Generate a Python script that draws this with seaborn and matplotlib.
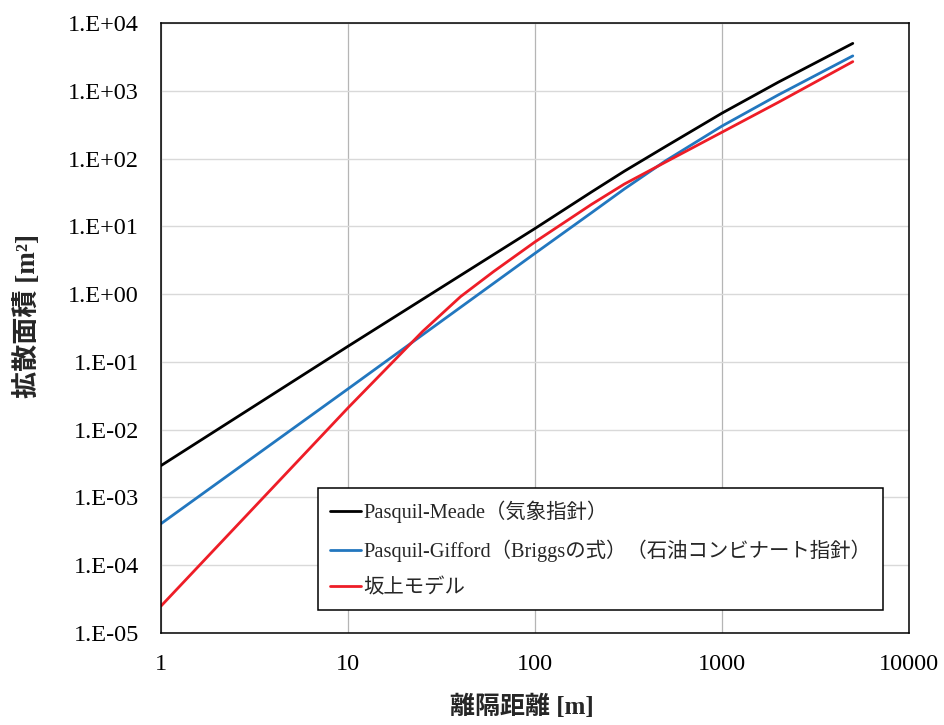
import numpy as np
import pandas as pd
import seaborn as sns
import matplotlib
matplotlib.use('Agg')
import matplotlib.pyplot as plt
from matplotlib.ticker import FixedLocator, FuncFormatter, NullLocator

# values (distance [m] -> area [m2])
x_meade = [1, 10, 100, 200, 300, 500, 1000, 2000, 5000]
area_meade = [2.95e-3, 0.17, 9.3, 32, 65, 151, 468, 1340, 5000]

x_gifford = [1, 10, 100, 200, 300, 500, 1000, 2000, 5000]
area_gifford = [4.1e-4, 0.040, 4.0, 15.8, 35.5, 93, 302, 870, 3270]

x_sakaue = [1, 10, 25, 40, 60, 100, 200, 300, 500, 1000, 2000, 5000]
area_sakaue = [2.5e-5, 0.021, 0.28, 0.92, 2.15, 5.9, 21, 42, 89, 245, 676, 2690]

series = ['Pasquil-Meade（気象指針）',
          'Pasquil-Gifford（Briggsの式）（石油コンビナート指針）',
          '坂上モデル']
colors = ['#000000', '#2277bf', '#ee1d27']

x_ticks = [1, 10, 100, 1000, 10000]
y_ticks = [1e-5, 1e-4, 1e-3, 1e-2, 1e-1, 1e0, 1e1, 1e2, 1e3, 1e4]

df = pd.concat([
    pd.DataFrame({'x': x_meade, 'area': area_meade, 'model': series[0]}),
    pd.DataFrame({'x': x_gifford, 'area': area_gifford, 'model': series[1]}),
    pd.DataFrame({'x': x_sakaue, 'area': area_sakaue, 'model': series[2]}),
], ignore_index=True)

sns.set_style('white')
plt.rcParams['font.family'] = ['Liberation Serif', 'Noto Sans CJK JP']

fig, ax = plt.subplots(figsize=(9.45, 7.25), dpi=100)
fig.subplots_adjust(left=0.1704, right=0.962, bottom=0.1269, top=0.9683)

sns.lineplot(data=df, x='x', y='area', hue='model', hue_order=series,
             palette=colors, linewidth=2, estimator=None, sort=False, ax=ax)

ax.set_xscale('log')
ax.set_yscale('log')
ax.set_xlim(1, 10000)
ax.set_ylim(1e-5, 1e4)
ax.xaxis.set_major_locator(FixedLocator(x_ticks))
ax.yaxis.set_major_locator(FixedLocator(y_ticks))
ax.xaxis.set_minor_locator(NullLocator())
ax.yaxis.set_minor_locator(NullLocator())
ax.xaxis.set_major_formatter(FuncFormatter(lambda v, p: f'{v:.0f}'))
ax.yaxis.set_major_formatter(
    FuncFormatter(lambda v, p: f'1.E{int(round(np.log10(v))):+03d}'))
ax.tick_params(axis='both', length=0, labelsize=17.5, colors='black')
ax.tick_params(axis='x', pad=15)
ax.tick_params(axis='y', pad=16)

ax.grid(axis='y', color='#d9d9d9', linewidth=1)
ax.grid(axis='x', color='#b5b5b5', linewidth=0.9)
for s in ax.spines.values():
    s.set_color('black')
    s.set_linewidth(1.1)

ax.set_xlabel('離隔距離 [m]', fontsize=18, fontweight='bold')
ax.set_ylabel('拡散面積 [m²]', fontsize=19.5, fontweight='bold')
ax.xaxis.set_label_coords(0.483, -0.102)
ax.yaxis.set_label_coords(-0.16, 0.52)

sns.move_legend(ax, 'upper left', bbox_to_anchor=(0.21, 0.2377), title=None,
                frameon=True, fancybox=False, framealpha=1, edgecolor='black',
                fontsize=14.7, handlelength=1.5, handletextpad=0.1,
                labelspacing=0.82, borderpad=0.6, borderaxespad=0)
ax.get_legend().get_frame().set_linewidth(1.1)

plt.savefig('out.png', dpi=100)
